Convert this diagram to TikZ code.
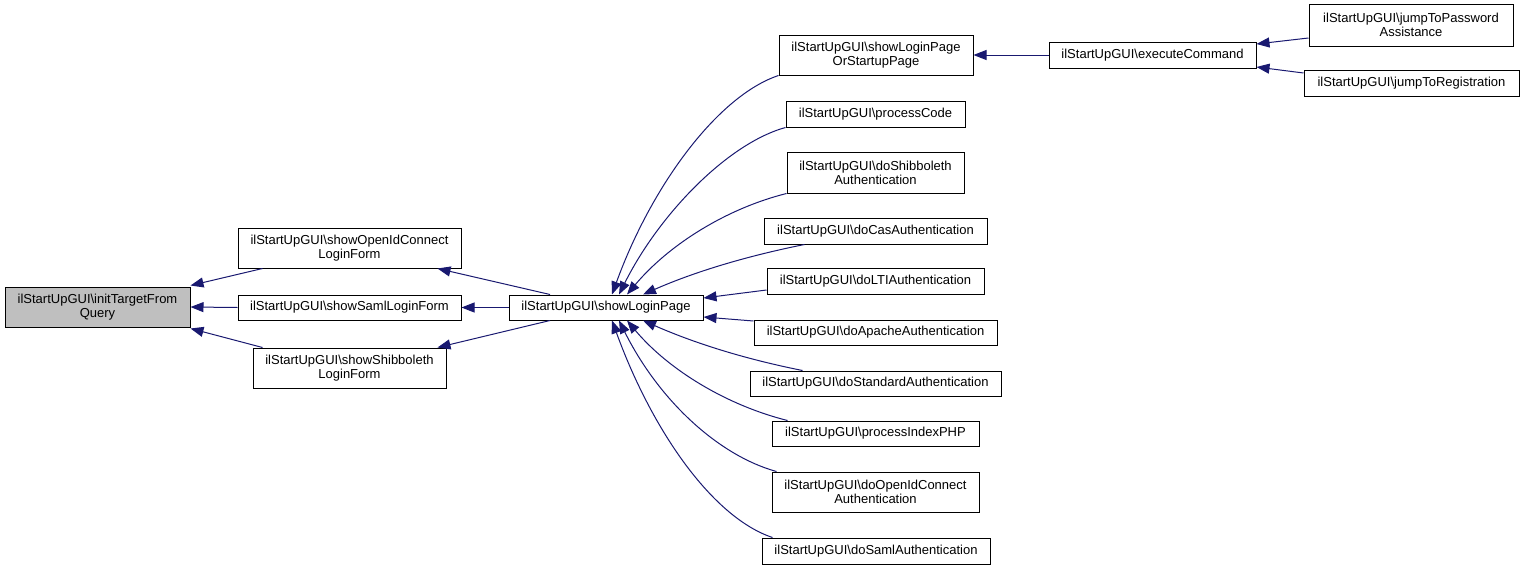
\documentclass[tikz,border=0pt]{standalone}
\usepackage{fontspec}
\setmainfont{Liberation Sans}
\usetikzlibrary{arrows.meta}
\definecolor{edgeblue}{RGB}{25,25,112}
\definecolor{focusgray}{RGB}{191,191,191}
\begin{document}
\begin{tikzpicture}[x=1pt,y=-1pt,
  fn/.style={draw=black, line width=1pt, fill=white, inner sep=0pt, align=center,
    font=\fontsize{13}{14}\selectfont},
  edge/.style={draw=edgeblue, line width=1pt, -{Triangle[length=13pt,width=10pt]}}]
\useasboundingbox (0,0) rectangle (1524,570);
% nodes
\node[fn, fill=focusgray, minimum width=185pt, minimum height=40pt] (init) at (97.5,307) {ilStartUpGUI\textbackslash initTargetFrom\\Query};
\node[fn, minimum width=223pt, minimum height=40pt] (oid) at (349.5,248) {ilStartUpGUI\textbackslash showOpenIdConnect\\LoginForm};
\node[fn, minimum width=223pt, minimum height=25pt] (saml) at (349.5,307.5) {ilStartUpGUI\textbackslash showSamlLoginForm};
\node[fn, minimum width=193pt, minimum height=40pt] (shib) at (349.5,368) {ilStartUpGUI\textbackslash showShibboleth\\LoginForm};
\node[fn, minimum width=194pt, minimum height=25pt] (lp) at (606,307.5) {ilStartUpGUI\textbackslash showLoginPage};
\node[fn, minimum width=194pt, minimum height=40pt] (lpos) at (876,55) {ilStartUpGUI\textbackslash showLoginPage\\OrStartupPage};
\node[fn, minimum width=179pt, minimum height=26pt] (pc) at (875.5,114) {ilStartUpGUI\textbackslash processCode};
\node[fn, minimum width=177pt, minimum height=41pt] (dsa) at (875.5,172.5) {ilStartUpGUI\textbackslash doShibboleth\\Authentication};
\node[fn, minimum width=223pt, minimum height=26pt] (cas) at (875.5,231) {ilStartUpGUI\textbackslash doCasAuthentication};
\node[fn, minimum width=217pt, minimum height=26pt] (lti) at (875.5,281) {ilStartUpGUI\textbackslash doLTIAuthentication};
\node[fn, minimum width=243pt, minimum height=25pt] (apa) at (875.5,332.5) {ilStartUpGUI\textbackslash doApacheAuthentication};
\node[fn, minimum width=251pt, minimum height=25pt] (std) at (875.5,383.5) {ilStartUpGUI\textbackslash doStandardAuthentication};
\node[fn, minimum width=207pt, minimum height=25pt] (pip) at (875.5,433.5) {ilStartUpGUI\textbackslash processIndexPHP};
\node[fn, minimum width=207pt, minimum height=40pt] (doid) at (875.5,492) {ilStartUpGUI\textbackslash doOpenIdConnect\\Authentication};
\node[fn, minimum width=228pt, minimum height=26pt] (dsaml) at (876,551) {ilStartUpGUI\textbackslash doSamlAuthentication};
\node[fn, minimum width=207pt, minimum height=26pt] (exec) at (1152.5,55) {ilStartUpGUI\textbackslash executeCommand};
\node[fn, minimum width=204pt, minimum height=42pt] (jtp) at (1411,25) {ilStartUpGUI\textbackslash jumpToPassword\\Assistance};
\node[fn, minimum width=215pt, minimum height=26pt] (jtr) at (1411.5,83.5) {ilStartUpGUI\textbackslash jumpToRegistration};
% edges to initTargetFromQuery
\draw[edge] ([xshift=25pt]oid.south west) -- ([yshift=1pt]init.north east);
\draw[edge] (saml.west) -- (init.east);
\draw[edge] ([xshift=10pt]shib.north west) -- ([yshift=-1pt]init.south east);
% edges to the three login forms
\draw[edge] ([xshift=-56pt]lp.north) -- ([xshift=-24pt]oid.south east);
\draw[edge] (lp.west) -- (saml.east);
\draw[edge] ([xshift=-56pt]lp.south) -- ([xshift=-9pt]shib.north east);
% edges to showLoginPage
\draw[edge] (lpos.south west) .. controls +(-60,20) and +(40,-110) .. ([xshift=6pt]lp.north);
\draw[edge] (pc.south west) .. controls +(-58,16) and +(40,-80) .. ([xshift=13pt]lp.north);
\draw[edge] (dsa.south west) .. controls +(-60,15) and +(42,-50) .. ([xshift=21pt]lp.north);
\draw[edge] ([xshift=41pt]cas.south west) .. controls +(-60,12) and +(50,-22) .. ([xshift=37pt]lp.north);
\draw[edge] ([yshift=-9pt]lti.west) -- ([yshift=9.5pt]lp.east);
\draw[edge] ([yshift=11.5pt]apa.west) -- ([yshift=-9.5pt]lp.east);
\draw[edge] ([xshift=53pt]std.north west) .. controls +(-60,-12) and +(50,22) .. ([xshift=37pt]lp.south);
\draw[edge] ([xshift=16pt]pip.north west) .. controls +(-60,-15) and +(42,50) .. ([xshift=21pt]lp.south);
\draw[edge] ([xshift=5pt]doid.north west) .. controls +(-58,-16) and +(40,80) .. ([xshift=13pt]lp.south);
\draw[edge] ([xshift=11pt]dsaml.north west) .. controls +(-60,-20) and +(40,110) .. ([xshift=6pt]lp.south);
% edges to showLoginPageOrStartupPage and executeCommand
\draw[edge] (exec.west) -- (lpos.east);
\draw[edge] ([yshift=-13pt]jtp.west) -- ([yshift=11pt]exec.east);
\draw[edge] ([yshift=10.5pt]jtr.west) -- ([yshift=-12pt]exec.east);
\end{tikzpicture}
\end{document}
